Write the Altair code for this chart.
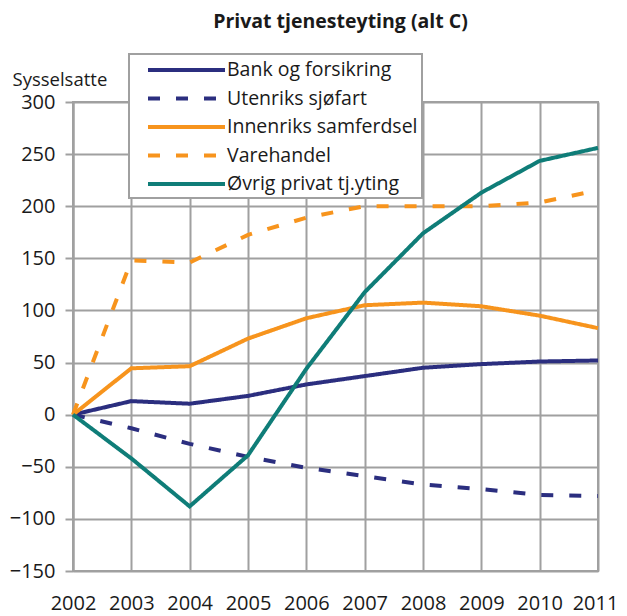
import altair as alt
import pandas as pd

years = [2002, 2003, 2004, 2005, 2006, 2007, 2008, 2009, 2010, 2011]
series = ["Bank og forsikring", "Utenriks sjøfart", "Innenriks samferdsel",
          "Varehandel", "Øvrig privat tj.yting"]
bank = [0, 13, 10.5, 18, 29, 37, 45, 48.5, 51, 52]
utenriks = [0, -13, -28, -40.5, -51, -59, -67, -71.5, -77, -78]
innenriks = [0, 44.5, 46.5, 73, 92.5, 105, 107.5, 104, 95, 83]
varehandel = [0, 148, 146, 172.5, 189, 200, 200, 200, 203.5, 215.5]
ovrig = [0, -42, -88, -39, 44, 117.5, 174, 213, 243.5, 256]
y_ticks = [-150, -100, -50, 0, 50, 100, 150, 200, 250, 300]

colors = ["#2b2e7f", "#2b2e7f", "#f7941d", "#f7941d", "#0f7d78"]
dashes = [[1, 0], [12, 16], [1, 0], [12, 16], [1, 0]]

rows = []
for name, vals in zip(series, [bank, utenriks, innenriks, varehandel, ovrig]):
    for yr, v in zip(years, vals):
        rows.append({"year": yr, "value": v, "series": name})
df = pd.DataFrame(rows)

FONT = "Open Sans"
GRID = "#a0a0a0"
TXT = "#1a1a1a"

chart = alt.Chart(df).mark_line(strokeWidth=4).encode(
    x=alt.X("year:Q",
            scale=alt.Scale(domain=[2002, 2011], nice=False, zero=False),
            axis=alt.Axis(values=years, format="d", title=None, labelFontSize=20,
                          ticks=False, labelPadding=22, labelFlush=False,
                          labelOverlap=False, domain=False,
                          labelOffset=alt.ExprRef("datum.value == 2011 ? -3 : 0"))),
    y=alt.Y("value:Q",
            scale=alt.Scale(domain=[-150, 300], nice=False),
            axis=alt.Axis(values=y_ticks, title="Sysselsatte", titleAngle=0,
                          titleAlign="left", titleBaseline="alphabetic",
                          titleX=-61, titleY=-17, titleFontSize=18.5,
                          titleFontWeight="normal", tickSize=8, labelPadding=10,
                          labelFontSize=20)),
    color=alt.Color("series:N", scale=alt.Scale(domain=series, range=colors),
                    legend=alt.Legend(title=None)),
    strokeDash=alt.StrokeDash("series:N", scale=alt.Scale(domain=series, range=dashes),
                              legend=alt.Legend(title=None)),
).properties(
    width=525,
    height=469,
    autosize=alt.AutoSizeParams(type="none"),
    padding={"left": 65, "top": 94, "right": 21, "bottom": 50},
    title=alt.TitleParams("Privat tjenesteyting (alt C)", font=FONT, fontSize=19.5,
                          fontWeight="bold", anchor="middle", color=TXT, offset=21,
                          dx=5),
).configure_axis(
    gridColor=GRID, gridWidth=2, domainColor=GRID, domainWidth=2,
    tickColor=GRID, tickWidth=2, labelColor=TXT, titleColor=TXT,
    labelFont=FONT, titleFont=FONT,
).configure_view(
    stroke=GRID, strokeWidth=2,
).configure_legend(
    orient="none", legendX=56, legendY=-48, fillColor="white",
    strokeColor=GRID, strokeWidth=2, padding=4,
    labelFont=FONT, labelFontSize=19.5, labelColor=TXT, labelLimit=400,
    symbolType="M-3.85,0H3.85", symbolSize=400, symbolStrokeWidth=4,
    symbolOffset=41.5, labelOffset=28.5, rowPadding=6.5,
)

chart.save("out.html", embed_options={"renderer": "svg", "actions": False})
